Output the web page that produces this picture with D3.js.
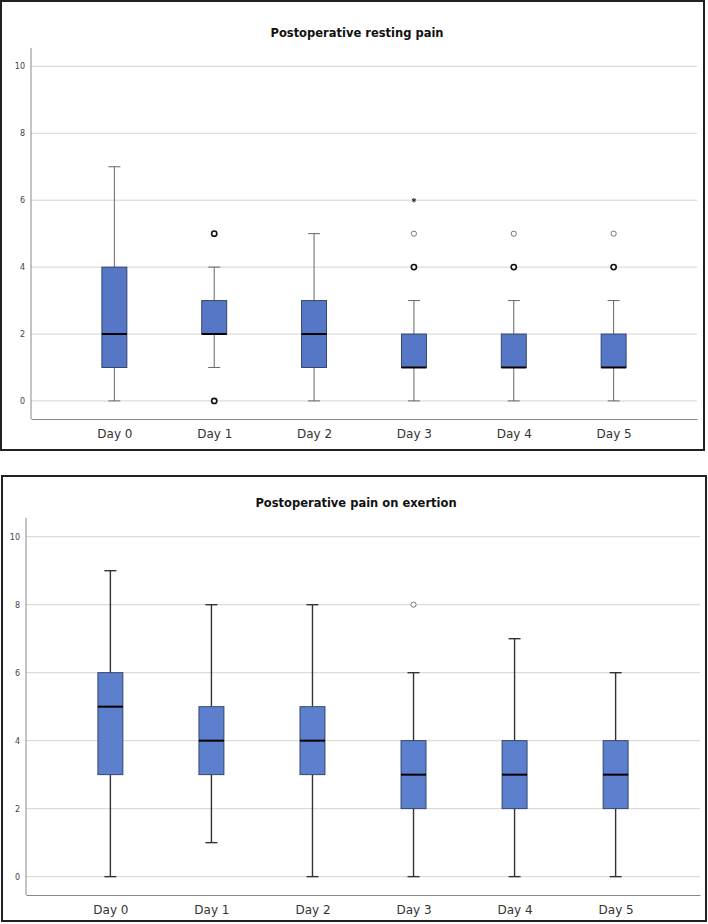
<!DOCTYPE html>
<html>
<head>
<meta charset="utf-8">
<script src="https://cdn.jsdelivr.net/npm/d3@7"></script>
<style>
  body { margin: 0; background: #fff; }
  svg { display: block; }
</style>
</head>
<body>
<svg id="chart" width="708" height="924"></svg>
<script>
// categories shared by both panels
const days = ["Day 0", "Day 1", "Day 2", "Day 3", "Day 4", "Day 5"];
const yTicks = [0, 2, 4, 6, 8, 10];

// resting pain: [whiskerLow, q1, median, q3, whiskerHigh]
const restStats = [
  [0, 1, 2, 4, 7],
  [1, 2, 2, 3, 4],
  [0, 1, 2, 3, 5],
  [0, 1, 1, 2, 3],
  [0, 1, 1, 2, 3],
  [0, 1, 1, 2, 3]
];
// outliers: day index, value, kind (multi = several cases, single, extreme)
const restOutliers = [
  [1, 5, "multi"], [1, 0, "multi"],
  [3, 4, "multi"], [3, 5, "single"], [3, 6, "extreme"],
  [4, 4, "multi"], [4, 5, "single"],
  [5, 4, "multi"], [5, 5, "single"]
];

// pain on exertion
const exertStats = [
  [0, 3, 5, 6, 9],
  [1, 3, 4, 5, 8],
  [0, 3, 4, 5, 8],
  [0, 2, 3, 4, 6],
  [0, 2, 3, 4, 7],
  [0, 2, 3, 4, 6]
];
const exertOutliers = [
  [3, 8, "single"]
];

const svg = d3.select("#chart");

function drawPanel(cfg) {
    let g = svg.append("g");

    // frame
    g.append("rect")
        .attr("x", cfg.frame[0]).attr("y", cfg.frame[1])
        .attr("width", cfg.frame[2]).attr("height", cfg.frame[3])
        .attr("fill", "#fff").attr("stroke", "#222").attr("stroke-width", 2);

    let x = d3.scalePoint().domain(days).range([cfg.left, cfg.right]).padding(0.835);
    let y = d3.scaleLinear().domain([-0.54, 10.55]).range([cfg.bottom, cfg.top]);

    // grid
    g.selectAll("line.grid").data(yTicks).enter().append("line")
        .attr("class", "grid")
        .attr("x1", cfg.left).attr("x2", cfg.right)
        .attr("y1", d => y(d)).attr("y2", d => y(d))
        .attr("stroke", "#d4d4d4").attr("stroke-width", 1);

    // y axis
    let yAxis = d3.axisLeft(y).tickValues(yTicks).tickSize(0).tickPadding(6);
    let ya = g.append("g").attr("transform", `translate(${cfg.left},0)`).call(yAxis);
    ya.select(".domain").remove();
    ya.selectAll("text").attr("font-family", "DejaVu Sans").attr("font-size", 8).attr("fill", "#444");
    g.append("line")
        .attr("x1", cfg.left).attr("x2", cfg.left)
        .attr("y1", cfg.bottom).attr("y2", cfg.top)
        .attr("stroke", "#888").attr("stroke-width", 1);

    // x axis
    let xAxis = d3.axisBottom(x).tickSize(0).tickPadding(10);
    let xa = g.append("g").attr("transform", `translate(0,${cfg.bottom})`).call(xAxis);
    xa.select(".domain").attr("stroke", "#888");
    xa.selectAll("text").attr("font-family", "DejaVu Sans").attr("font-size", 12).attr("fill", "#333");

    // title
    g.append("text")
        .attr("x", cfg.titleX).attr("y", cfg.titleY)
        .attr("text-anchor", "middle")
        .attr("font-family", "DejaVu Sans").attr("font-weight", "bold")
        .attr("font-size", 11.5).attr("fill", "#111")
        .text(cfg.title);

    let boxW = 25, capW = 12;
    let boxes = g.selectAll("g.box").data(cfg.stats).enter().append("g")
        .attr("class", "box")
        .attr("transform", (d, i) => `translate(${x(days[i])},0)`);

    // whiskers
    boxes.append("line")
        .attr("y1", d => y(d[0])).attr("y2", d => y(d[1]))
        .attr("stroke", cfg.whisker).attr("stroke-width", cfg.whiskerW);
    boxes.append("line")
        .attr("y1", d => y(d[3])).attr("y2", d => y(d[4]))
        .attr("stroke", cfg.whisker).attr("stroke-width", cfg.whiskerW);
    boxes.append("line")
        .attr("x1", -capW / 2).attr("x2", capW / 2)
        .attr("y1", d => y(d[0])).attr("y2", d => y(d[0]))
        .attr("stroke", cfg.whisker).attr("stroke-width", cfg.whiskerW);
    boxes.append("line")
        .attr("x1", -capW / 2).attr("x2", capW / 2)
        .attr("y1", d => y(d[4])).attr("y2", d => y(d[4]))
        .attr("stroke", cfg.whisker).attr("stroke-width", cfg.whiskerW);

    // box
    boxes.append("rect")
        .attr("x", -boxW / 2).attr("width", boxW)
        .attr("y", d => y(d[3])).attr("height", d => y(d[1]) - y(d[3]))
        .attr("fill", cfg.fill).attr("stroke", "#2c3b63").attr("stroke-width", 0.9);

    // median
    boxes.append("line")
        .attr("x1", -boxW / 2).attr("x2", boxW / 2)
        .attr("y1", d => y(d[2])).attr("y2", d => y(d[2]))
        .attr("stroke", "#000").attr("stroke-width", 2);

    // outliers
    cfg.outliers.forEach(o => {
        let cx = x(days[o[0]]), cy = y(o[1]);
        if (o[2] === "extreme") {
            g.append("path")
                .attr("d", d3.symbol(d3.symbolAsterisk, 14)())
                .attr("transform", `translate(${cx},${cy})`)
                .attr("fill", "none").attr("stroke", "#222").attr("stroke-width", 1);
        } else {
            g.append("circle")
                .attr("cx", cx).attr("cy", cy).attr("r", 2.6)
                .attr("fill", "#fff")
                .attr("stroke", o[2] === "multi" ? "#111" : "#555")
                .attr("stroke-width", o[2] === "multi" ? 1.6 : 0.8);
        }
    });
}

drawPanel({
    frame: [1, 1, 703, 449],
    left: 31, right: 697, top: 48, bottom: 419,
    title: "Postoperative resting pain", titleX: 357, titleY: 37,
    stats: restStats, outliers: restOutliers,
    fill: "#5577c6", whisker: "#666", whiskerW: 1
});

drawPanel({
    frame: [2, 476, 704, 445],
    left: 26, right: 700, top: 518, bottom: 895,
    title: "Postoperative pain on exertion", titleX: 356, titleY: 507,
    stats: exertStats, outliers: exertOutliers,
    fill: "#5c80cd", whisker: "#333", whiskerW: 1.4
});
</script>
</body>
</html>
